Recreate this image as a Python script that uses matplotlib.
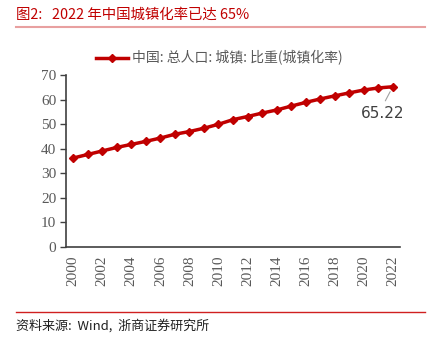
import matplotlib
matplotlib.use("Agg")
import matplotlib.pyplot as plt
from matplotlib.lines import Line2D

years = list(range(2000, 2023))
urban_rate = [36.22, 37.66, 39.09, 40.53, 41.76, 42.99, 44.34, 45.89, 46.99, 48.34,
              49.95, 51.83, 53.10, 54.49, 55.75, 57.33, 58.84, 60.24, 61.50, 62.71,
              63.89, 64.72, 65.22]
xtick_labels = [str(y) for y in range(2000, 2023, 2)]
yticks = list(range(0, 71, 10))

title = "图2:   2022 年中国城镇化率已达 65%"
legend_label = "中国: 总人口: 城镇: 比重(城镇化率)"
source = "资料来源:  Wind,  浙商证券研究所"

cjk = ["Noto Sans CJK SC", "DejaVu Sans"]
serif = ["Liberation Serif", "Noto Sans CJK SC"]
red = "#C00000"
grey = "#595959"

fig = plt.figure(figsize=(4.4, 3.45), dpi=100)
ax = fig.add_axes([66/440, 1-247/345, (400-66)/440, (247-75)/345])

ax.plot(years, urban_rate, color=red, lw=2.5, marker="D", ms=4.5,
        mec=red, mfc=red)
ax.set_xlim(1999.5, 2022.5)
ax.set_ylim(0, 70)
ax.set_yticks(yticks)
ax.set_yticklabels([str(v) for v in yticks], family=serif, fontsize=11, color=grey)
ax.set_xticks(list(range(2000, 2023, 2)))
ax.set_xticklabels(xtick_labels, family=serif, fontsize=11, color=grey, rotation=90)
ax.tick_params(axis="x", length=0, pad=6)
ax.tick_params(axis="y", length=4, width=1, color="#404040", pad=3)
for s in ["top", "right"]:
    ax.spines[s].set_visible(False)
for s in ["left", "bottom"]:
    ax.spines[s].set_color("#404040")
    ax.spines[s].set_linewidth(1.2)

ax.annotate(f"{urban_rate[-1]:.2f}", xy=(years[-1], urban_rate[-1]),
            xytext=(2021.3, 54.3), textcoords="data",
            fontsize=11, color="#404040", ha="center", va="center",
            family=["DejaVu Sans"],
            arrowprops=dict(arrowstyle="-", color="#A0A0A0", lw=0.8,
                            relpos=(0.5, 1.0), shrinkA=2, shrinkB=4))

handle = Line2D([], [], color=red, lw=2.5, marker="D", ms=4.5, mfc=red, mec=red)
leg = fig.legend([handle], [legend_label], loc="center left",
                 bbox_to_anchor=(90/440, 1-58/345), frameon=False,
                 prop={"family": cjk, "size": 10}, handlelength=2.3,
                 handletextpad=0.3, borderaxespad=0)
for t in leg.get_texts():
    t.set_color(grey)

fig.text(16/440, 1-15/345, title, family=cjk, fontsize=10.4, color=red,
         ha="left", va="center")
fig.add_artist(Line2D([16/440, 425/440], [1-27/345, 1-27/345], color="#E8A0A0", lw=1.5))
fig.add_artist(Line2D([16/440, 425/440], [1-312/345, 1-312/345], color="#D02020", lw=1.0))
fig.text(16/440, 1-326/345, source, family=cjk, fontsize=9.4, color="#202020",
         ha="left", va="center")

fig.savefig("out.png", dpi=100)
